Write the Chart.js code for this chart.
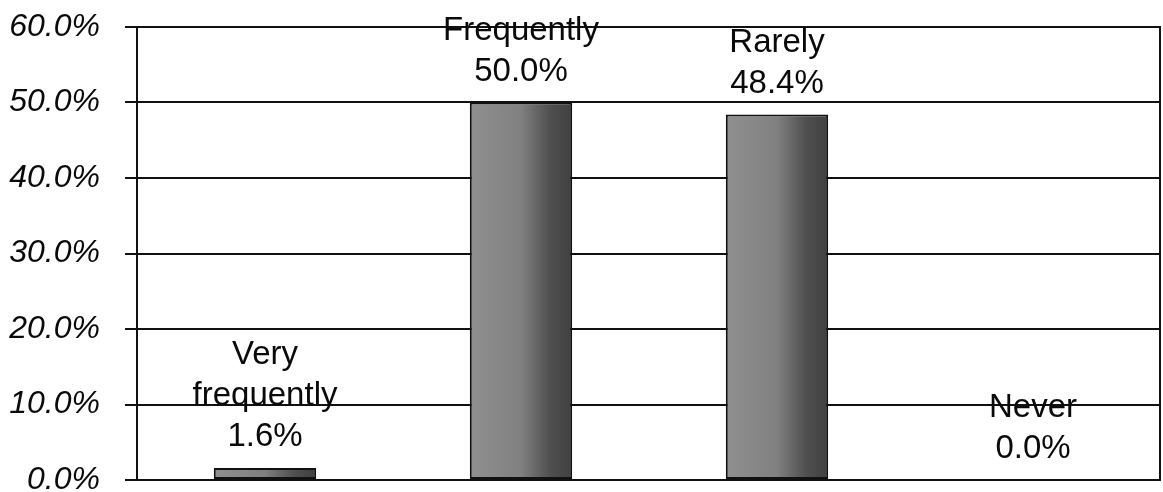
<!DOCTYPE html>
<html>
<head>
<meta charset="utf-8">
<style>
  html, body { margin: 0; padding: 0; background: #fff; }
  #wrap { width: 1163px; height: 492px; }
</style>
<script src="https://cdn.jsdelivr.net/npm/chart.js@4/dist/chart.umd.min.js"></script>
</head>
<body>
<div id="wrap"><canvas id="c" width="1163" height="492"></canvas></div>
<script>
const categories = [["Very", "frequently"], ["Frequently"], ["Rarely"], ["Never"]];
const values = [1.6, 50.0, 48.4, 0.0];
const tickValues = [0, 10, 20, 30, 40, 50, 60];
const tickLabels = ["0.0%", "10.0%", "20.0%", "30.0%", "40.0%", "50.0%", "60.0%"];
const valueLabels = ["1.6%", "50.0%", "48.4%", "0.0%"];

const FONT = "'Liberation Sans', Arial, Helvetica, sans-serif";

function barFill(ctx) {
  const chart = ctx.chart;
  const xs = chart.scales.x;
  if (!xs || !chart.chartArea) return '#777';
  const cx = xs.getPixelForValue(ctx.dataIndex);
  const w = (chart.chartArea.right - chart.chartArea.left) / categories.length * 0.4;
  const g = chart.ctx.createLinearGradient(cx - w / 2, 0, cx + w / 2, 0);
  g.addColorStop(0, '#909090');
  g.addColorStop(0.5, '#808080');
  g.addColorStop(0.66, '#646464');
  g.addColorStop(0.8, '#4e4e4e');
  g.addColorStop(1, '#404040');
  return g;
}

const labelPlugin = {
  id: 'barLabels',
  afterDatasetsDraw(chart) {
    const ctx = chart.ctx;
    const meta = chart.getDatasetMeta(0);
    ctx.save();
    ctx.fillStyle = '#0a0a0a';
    ctx.font = '33px ' + FONT;
    ctx.textAlign = 'center';
    ctx.textBaseline = 'alphabetic';
    meta.data.forEach((el, i) => {
      const lines = categories[i].concat([valueLabels[i]]);
      let y = el.y - 22;
      for (let k = lines.length - 1; k >= 0; k--) {
        ctx.fillText(lines[k], el.x, y);
        y -= 41;
      }
    });
    // right border of plot
    const a = chart.chartArea;
    ctx.strokeStyle = '#111';
    ctx.lineWidth = 2;
    ctx.beginPath();
    ctx.moveTo(a.right - 1, a.top);
    ctx.lineTo(a.right - 1, a.bottom);
    ctx.stroke();
    ctx.restore();
  }
};

new Chart(document.getElementById('c'), {
  type: 'bar',
  data: {
    labels: categories.map(c => c.join(' ')),
    datasets: [{
      data: values,
      backgroundColor: barFill,
      borderColor: '#111',
      borderWidth: 2,
      borderSkipped: false,
      categoryPercentage: 0.8,
      barPercentage: 0.5
    }]
  },
  options: {
    responsive: false,
    animation: false,
    devicePixelRatio: 1,
    layout: { padding: { top: 27, right: 2, bottom: 12, left: 0 } },
    plugins: { legend: { display: false }, tooltip: { enabled: false } },
    scales: {
      x: {
        display: false
      },
      y: {
        min: 0,
        max: 60,
        afterBuildTicks(scale) {
          scale.ticks = tickValues.map(v => ({ value: v }));
        },
        afterFit(scale) {
          scale.width = 137;
          scale.paddingTop = 0;
          scale.paddingBottom = 0;
        },
        ticks: {
          callback: (v) => tickLabels[tickValues.indexOf(v)],
          font: { family: FONT, size: 32, style: 'italic' },
          color: '#0a0a0a',
          padding: 25
        },
        grid: {
          color: '#111',
          lineWidth: 2,
          tickLength: 12,
          drawTicks: true
        },
        border: { display: true, color: '#111', width: 2 }
      }
    }
  },
  plugins: [labelPlugin]
});
</script>
</body>
</html>
